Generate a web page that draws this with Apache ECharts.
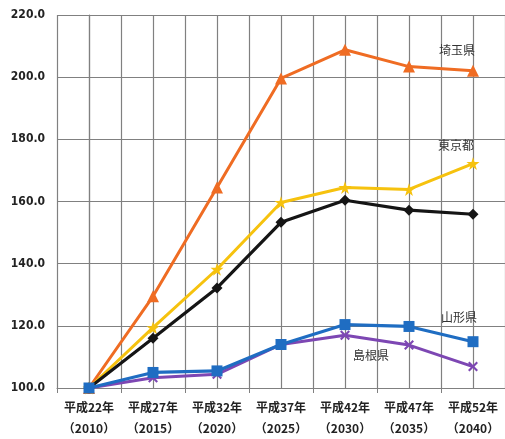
<!DOCTYPE html>
<html>
<head>
<meta charset="utf-8">
<script src="https://cdn.jsdelivr.net/npm/echarts@6/dist/echarts.min.js"></script>
<style>
  html, body { margin: 0; padding: 0; background: #fff; }
  #chart { width: 505px; height: 439px; }
</style>
</head>
<body>
<div id="chart"></div>
<script>
// Population index (2010 = 100) by prefecture
const categories = ['平成22年\n（2010）', '平成27年\n（2015）', '平成32年\n（2020）', '平成37年\n（2025）',
                    '平成42年\n（2030）', '平成47年\n（2035）', '平成52年\n（2040）'];
const saitama  = [100, 129.5, 164.5, 199.6, 208.8, 203.4, 202.1];
const tokyo    = [100, 119.4, 138.2, 159.7, 164.5, 163.9, 172.2];
const national = [100, 116.0, 132.2, 153.3, 160.4, 157.2, 155.9];
const yamagata = [100, 105.0, 105.5, 114.0, 120.4, 119.8, 114.9];
const shimane  = [100, 103.3, 104.4, 114.0, 117.0, 113.8, 106.9];
const yTicks = { min: 100, max: 220, step: 20 };

const STAR = 'path://M50,0 L61,35 L98,35 L68,57 L79,91 L50,70 L21,91 L32,57 L2,35 L39,35 Z';
const CROSS = 'path://M0,15 L15,0 L50,35 L85,0 L100,15 L65,50 L100,85 L85,100 L50,65 L15,100 L0,85 L35,50 Z';
const GRID_COLOR = '#808080';

// label one point of a series with the series name
function tagged(values, idx, offset) {
  return values.map((v, i) => i === idx ? {
    value: v,
    label: {
      show: true, position: 'inside', offset: offset,
      formatter: '{a}', color: '#333', fontSize: 12,
      fontFamily: 'Noto Sans CJK JP'
    }
  } : v);
}

function line(name, data, color, symbol, size, width, z) {
  return {
    name, type: 'line', data, z,
    symbol, symbolSize: size,
    lineStyle: { color, width },
    itemStyle: { color, borderWidth: 0 },
    emphasis: { disabled: true },
    animation: false
  };
}

const chart = echarts.init(document.getElementById('chart'));
chart.setOption({
  backgroundColor: '#fff',
  grid: { left: 57, top: 15, width: 453, height: 373 },
  xAxis: [{
    type: 'category', data: categories, boundaryGap: true,
    axisLine: { lineStyle: { color: GRID_COLOR, width: 1.2 } },
    axisTick: { show: true, length: 5, lineStyle: { color: GRID_COLOR } },
    splitLine: { show: false },
    axisLabel: {
      color: '#222', fontSize: 12, fontWeight: 'bold', lineHeight: 21, margin: 9,
      fontFamily: 'Noto Sans CJK JP', interval: 0
    }
  }, {
    // half-category grid: a line at every boundary and every category centre
    type: 'value', min: -0.5, max: 6.5, interval: 0.5, position: 'bottom',
    axisLine: { show: false }, axisTick: { show: false }, axisLabel: { show: false },
    splitLine: { show: true, lineStyle: { color: GRID_COLOR, width: 1.2 } }
  }],
  yAxis: {
    type: 'value', min: yTicks.min, max: yTicks.max, interval: yTicks.step,
    axisLine: { show: true, lineStyle: { color: GRID_COLOR, width: 1.2 } },
    axisTick: { show: true, length: 5, lineStyle: { color: GRID_COLOR } },
    splitLine: { lineStyle: { color: GRID_COLOR, width: 1.2 } },
    axisLabel: {
      color: '#222', fontSize: 12, fontWeight: 'bold', margin: 12,
      fontFamily: 'DejaVu Sans Condensed',
      formatter: v => v.toFixed(1)
    }
  },
  series: [
    line('埼玉県', tagged(saitama, 6, [-16, -20]), '#EF6C23', 'triangle', 12, 3, 3),
    line('東京都', tagged(tokyo, 6, [-17, -18]), '#F6C20E', STAR, 13, 3, 4),
    line('全国', national, '#151515', 'diamond', 11, 3.2, 5),
    line('島根県', tagged(shimane, 4, [26, 20]), '#7D47B3', CROSS, 10, 3, 6),
    line('山形県', tagged(yamagata, 6, [-14, -24]), '#1F6DC2', 'rect', 11, 3.2, 7)
  ]
});
</script>
</body>
</html>
